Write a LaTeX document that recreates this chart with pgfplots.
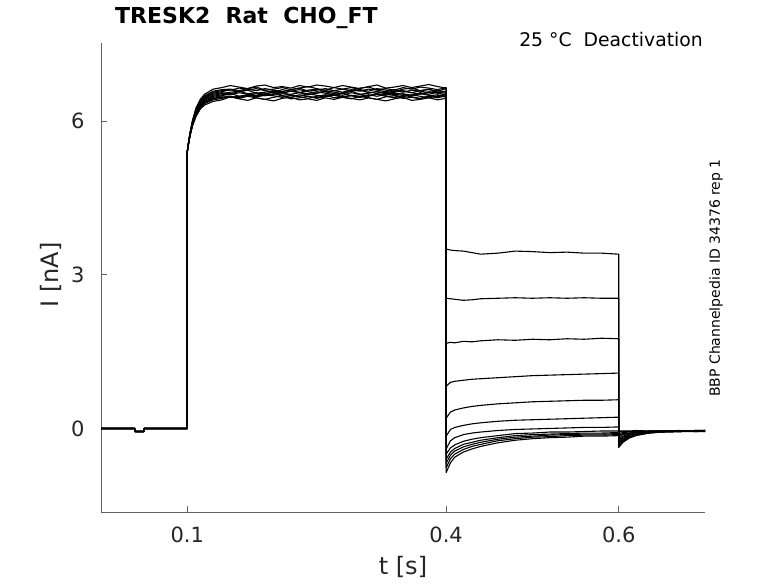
\documentclass[border=0pt]{standalone}
\usepackage{pgfplots}
\pgfplotsset{compat=1.18}
\usepackage{pgfplotstable}
\usepackage{fontspec}
\setmainfont{DejaVu Sans}
\definecolor{axisgray}{rgb}{0.38,0.38,0.38}
\definecolor{labelgray}{rgb}{0.15,0.15,0.15}
\pgfplotstableread{
t y1 y2 y3 y4 y5 y6 y7 y8 y9 y10 y11 y12
0 0 0 0 0 0 0 0 0 0 0 0 0
0.039 0 0 0 0 0 0 0 0 0 0 0 0
0.0395 -0.06 -0.06 -0.06 -0.06 -0.06 -0.06 -0.06 -0.06 -0.06 -0.06 -0.06 -0.06
0.0495 -0.06 -0.06 -0.06 -0.06 -0.06 -0.06 -0.06 -0.06 -0.06 -0.06 -0.06 -0.06
0.05 0 0 0 0 0 0 0 0 0 0 0 0
0.1 0 0 0 0 0 0 0 0 0 0 0 0
0.1 5.40 5.40 5.40 5.40 5.40 5.40 5.40 5.40 5.40 5.40 5.40 5.40
0.101 5.51 5.53 5.52 5.52 5.51 5.53 5.52 5.51 5.53 5.52 5.52 5.51
0.103 5.70 5.75 5.71 5.73 5.69 5.76 5.72 5.70 5.74 5.72 5.73 5.71
0.106 5.91 5.99 5.94 5.97 5.90 6.01 5.96 5.92 5.98 5.95 5.97 5.93
0.110 6.10 6.22 6.14 6.19 6.08 6.25 6.17 6.12 6.21 6.15 6.18 6.12
0.115 6.25 6.39 6.29 6.36 6.23 6.42 6.33 6.27 6.37 6.31 6.34 6.28
0.120 6.34 6.49 6.38 6.45 6.31 6.52 6.42 6.35 6.47 6.40 6.44 6.36
0.130 6.41 6.58 6.46 6.54 6.38 6.62 6.50 6.43 6.56 6.48 6.52 6.44
0.140 6.44 6.61 6.49 6.57 6.41 6.65 6.53 6.46 6.59 6.51 6.55 6.47
0.15 6.47 6.62 6.54 6.61 6.47 6.69 6.56 6.48 6.60 6.51 6.53 6.46
0.16 6.44 6.59 6.48 6.57 6.43 6.66 6.58 6.45 6.64 6.55 6.57 6.48
0.17 6.48 6.63 6.50 6.60 6.40 6.63 6.53 6.50 6.62 6.52 6.60 6.51
0.18 6.45 6.66 6.53 6.63 6.45 6.68 6.55 6.47 6.59 6.49 6.54 6.47
0.19 6.42 6.60 6.49 6.59 6.42 6.70 6.52 6.51 6.63 6.53 6.56 6.50
0.20 6.46 6.62 6.52 6.56 6.39 6.65 6.57 6.49 6.60 6.56 6.59 6.53
0.21 6.49 6.65 6.55 6.61 6.44 6.67 6.54 6.46 6.57 6.50 6.55 6.49
0.22 6.43 6.61 6.51 6.58 6.46 6.64 6.58 6.50 6.61 6.52 6.58 6.46
0.23 6.45 6.64 6.48 6.55 6.41 6.69 6.56 6.47 6.64 6.55 6.61 6.51
0.24 6.48 6.67 6.53 6.60 6.43 6.66 6.53 6.44 6.58 6.51 6.57 6.48
0.25 6.44 6.63 6.50 6.62 6.40 6.70 6.57 6.48 6.60 6.54 6.54 6.45
0.26 6.47 6.60 6.47 6.57 6.45 6.68 6.54 6.51 6.63 6.57 6.59 6.50
0.27 6.50 6.65 6.52 6.59 6.42 6.65 6.51 6.45 6.59 6.53 6.56 6.52
0.28 6.46 6.62 6.54 6.56 6.46 6.69 6.55 6.47 6.62 6.50 6.53 6.47
0.29 6.43 6.59 6.49 6.61 6.44 6.66 6.58 6.50 6.65 6.55 6.58 6.49
0.30 6.48 6.64 6.51 6.58 6.41 6.63 6.52 6.46 6.61 6.52 6.60 6.46
0.31 6.45 6.66 6.48 6.62 6.45 6.67 6.54 6.49 6.58 6.49 6.55 6.51
0.32 6.42 6.61 6.53 6.60 6.42 6.70 6.57 6.52 6.63 6.54 6.57 6.48
0.33 6.47 6.63 6.50 6.57 6.39 6.64 6.53 6.48 6.60 6.56 6.54 6.52
0.34 6.49 6.60 6.54 6.61 6.43 6.66 6.56 6.45 6.57 6.51 6.59 6.50
0.35 6.44 6.65 6.52 6.58 6.46 6.69 6.59 6.50 6.62 6.53 6.56 6.47
0.36 6.46 6.62 6.49 6.55 6.40 6.65 6.55 6.47 6.64 6.50 6.60 6.51
0.37 6.43 6.66 6.53 6.59 6.42 6.68 6.52 6.44 6.59 6.55 6.58 6.48
0.38 6.48 6.64 6.50 6.62 6.45 6.71 6.57 6.49 6.61 6.52 6.55 6.45
0.39 6.45 6.61 6.47 6.56 6.41 6.67 6.54 6.51 6.58 6.56 6.59 6.49
0.4 6.49 6.65 6.51 6.58 6.44 6.64 6.51 6.46 6.63 6.54 6.56 6.52
0.4 3.50 2.54 1.66 0.82 0.20 -0.15 -0.40 -0.50 -0.60 -0.68 -0.77 -0.86
0.405 3.48 2.53 1.68 0.90 0.32 -0.02 -0.24 -0.38 -0.46 -0.52 -0.59 -0.67
0.41 3.47 2.52 1.67 0.92 0.36 0.02 -0.18 -0.32 -0.39 -0.44 -0.50 -0.56
0.42 3.46 2.50 1.70 0.94 0.40 0.06 -0.12 -0.25 -0.31 -0.36 -0.41 -0.46
0.43 3.43 2.51 1.69 0.96 0.43 0.09 -0.09 -0.21 -0.27 -0.31 -0.35 -0.40
0.44 3.40 2.53 1.71 0.97 0.45 0.11 -0.07 -0.18 -0.23 -0.27 -0.31 -0.35
0.46 3.42 2.54 1.73 0.99 0.48 0.14 -0.04 -0.14 -0.18 -0.21 -0.24 -0.28
0.48 3.46 2.55 1.72 1.01 0.50 0.16 -0.02 -0.10 -0.14 -0.17 -0.20 -0.23
0.50 3.45 2.54 1.74 1.03 0.52 0.17 -0.01 -0.09 -0.12 -0.15 -0.17 -0.20
0.52 3.43 2.55 1.73 1.04 0.53 0.18 0.00 -0.07 -0.11 -0.13 -0.16 -0.18
0.54 3.44 2.54 1.75 1.05 0.54 0.19 0.01 -0.07 -0.10 -0.12 -0.14 -0.17
0.56 3.42 2.55 1.74 1.06 0.55 0.20 0.02 -0.06 -0.09 -0.11 -0.13 -0.15
0.58 3.42 2.54 1.76 1.07 0.55 0.21 0.02 -0.05 -0.09 -0.11 -0.13 -0.15
0.6 3.40 2.54 1.75 1.08 0.56 0.22 0.03 -0.05 -0.08 -0.10 -0.12 -0.14
0.6 -0.37 -0.34 -0.31 -0.28 -0.25 -0.22 -0.19 -0.16 -0.13 -0.10 -0.07 -0.05
0.605 -0.27 -0.25 -0.23 -0.21 -0.19 -0.17 -0.15 -0.12 -0.10 -0.08 -0.06 -0.05
0.612 -0.19 -0.18 -0.17 -0.15 -0.14 -0.13 -0.11 -0.10 -0.09 -0.07 -0.06 -0.05
0.62 -0.14 -0.13 -0.12 -0.11 -0.11 -0.10 -0.09 -0.08 -0.07 -0.06 -0.06 -0.04
0.635 -0.09 -0.09 -0.08 -0.08 -0.08 -0.07 -0.07 -0.06 -0.06 -0.06 -0.05 -0.05
0.65 -0.07 -0.07 -0.07 -0.06 -0.06 -0.06 -0.06 -0.06 -0.05 -0.05 -0.05 -0.05
0.67 -0.06 -0.06 -0.06 -0.05 -0.05 -0.05 -0.06 -0.05 -0.05 -0.04 -0.05 -0.06
0.69 -0.05 -0.05 -0.06 -0.04 -0.05 -0.06 -0.05 -0.04 -0.06 -0.05 -0.04 -0.05
0.7 -0.05 -0.04 -0.05 -0.04 -0.06 -0.05 -0.04 -0.05 -0.06 -0.05 -0.04 -0.05
}\traces
\begin{document}
\begin{tikzpicture}
\useasboundingbox (0,0) rectangle (778pt,583pt);
\begin{axis}[
  at={(101pt,71pt)}, anchor=south west,
  scale only axis, width=604pt, height=469pt,
  xmin=0, xmax=0.7, ymin=-1.63, ymax=7.52,
  axis lines*=left,
  axis line style={color=axisgray, line width=0.7pt},
  xtick={0.1,0.4,0.6}, ytick={0,3,6},
  xticklabels={0.1,0.4,0.6},
  tick style={color=axisgray, line width=0.7pt},
  tick align=inside, major tick length=6pt,
  ticklabel style={font=\fontsize{21}{25}\selectfont, text=labelgray},
  xticklabel style={yshift=-11.5pt},
  yticklabel style={xshift=-13pt},
  /pgf/number format/assume math mode=true,
  xlabel={t [s]}, ylabel={I [nA]},
  label style={font=\fontsize{24}{28}\selectfont, text=labelgray},
  xlabel style={at={(axis description cs:0.5,-0.117)}, anchor=center},
  ylabel style={at={(axis description cs:-0.083,0.505)}, anchor=center},
]
\pgfplotsinvokeforeach{1,...,12}{
  \addplot[black, line width=1.1pt, line join=round] table[x=t, y=y#1]{\traces};
}
\end{axis}
\node[anchor=west, inner sep=0pt, font=\fontsize{22}{26}\selectfont\bfseries] at (115pt,565pt) {TRESK2\ \ Rat\ \ CHO\_FT};
\node[anchor=east, inner sep=0pt, font=\fontsize{18.8}{22}\selectfont] at (703pt,543pt) {25 °C\ \ Deactivation};
\node[rotate=90, inner sep=0pt, font=\fontsize{14}{17}\selectfont] at (716pt,305pt) {BBP Channelpedia ID 34376 rep 1};
\end{tikzpicture}
\end{document}
